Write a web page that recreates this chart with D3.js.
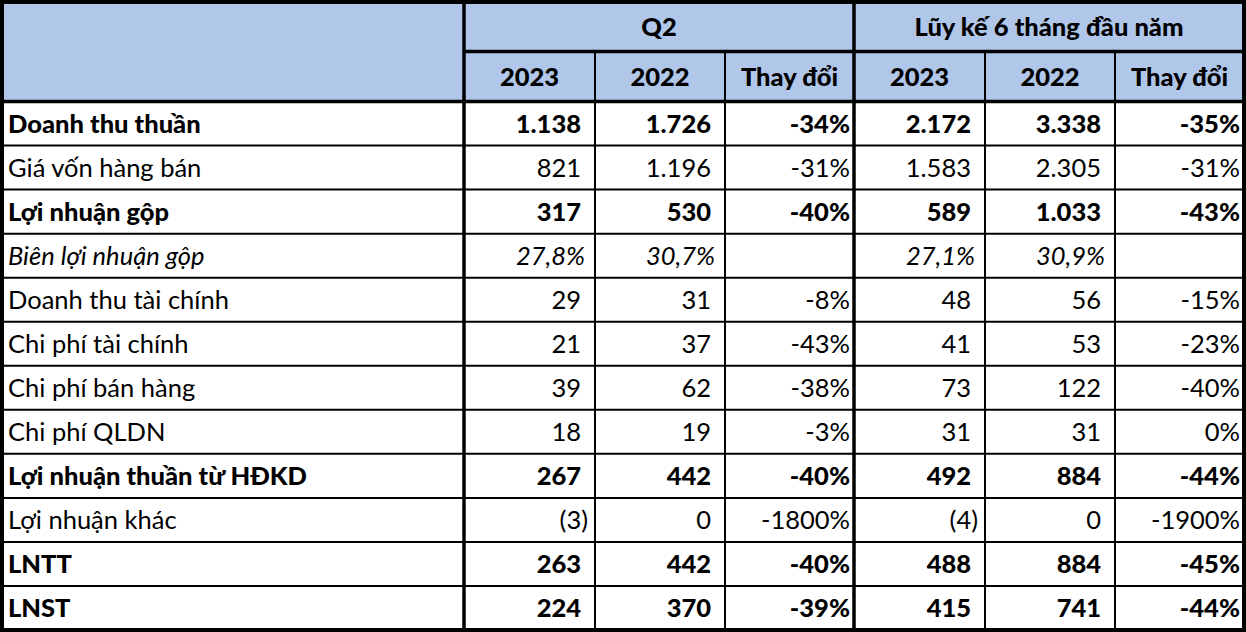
<!DOCTYPE html>
<html>
<head>
<meta charset="utf-8">
<script src="https://cdn.jsdelivr.net/npm/d3@7"></script>
<style>
  html, body { margin: 0; padding: 0; background: #fff; }
  svg { display: block; }
  text { font-family: Lato, "Open Sans", sans-serif; fill: #000; }
</style>
</head>
<body>
<script>
// row labels and values (tỷ đồng)
var rowLabels = ["Doanh thu thuần", "Giá vốn hàng bán", "Lợi nhuận gộp", "Biên lợi nhuận gộp",
    "Doanh thu tài chính", "Chi phí tài chính", "Chi phí bán hàng", "Chi phí QLDN",
    "Lợi nhuận thuần từ HĐKD", "Lợi nhuận khác", "LNTT", "LNST"];
var q2_2023  = [1138, 821, 317, 0.278, 29, 21, 39, 18, 267, -3, 263, 224];
var q2_2022  = [1726, 1196, 530, 0.307, 31, 37, 62, 19, 442, 0, 442, 370];
var q2Change = [-0.34, -0.31, -0.40, null, -0.08, -0.43, -0.38, -0.03, -0.40, -18, -0.40, -0.39];
var ytd_2023  = [2172, 1583, 589, 0.271, 48, 41, 73, 31, 492, -4, 488, 415];
var ytd_2022  = [3338, 2305, 1033, 0.309, 56, 53, 122, 31, 884, 0, 884, 741];
var ytdChange = [-0.35, -0.31, -0.43, null, -0.15, -0.23, -0.40, 0, -0.44, -19, -0.45, -0.44];
var groupLabels = ["Q2", "Lũy kế 6 tháng đầu năm"];
var subLabels = ["2023", "2022", "Thay đổi"];

var boldRows = [0, 2, 8, 10, 11];
var italicRows = [3];
var ratioRows = [3];

var width = 1246, height = 632;
var colEdges = [2, 464, 595, 725, 854, 985, 1115, 1244];
var headTop = 2, headMid = 51.5, headBottom = 101.5, tableBottom = 630;

var vn = d3.formatLocale({decimal: ",", thousands: ".", grouping: [3], currency: ["", ""], minus: "-"});
var fmtNum = vn.format(",d"), fmtPct0 = vn.format(".0%"), fmtPct1 = vn.format(".1%");

var columns = [q2_2023, q2_2022, q2Change, ytd_2023, ytd_2022, ytdChange];

var y = d3.scaleBand()
    .domain(d3.range(rowLabels.length))
    .range([headBottom, tableBottom]);

var svg = d3.select("body").append("svg")
    .attr("width", width)
    .attr("height", height);

// header background
svg.append("rect")
    .attr("x", 0).attr("y", 0)
    .attr("width", width).attr("height", headBottom)
    .attr("fill", "#b0c7ea");

var fs = 25.5, boldW = 900;

// header texts
svg.selectAll("text.group").data(groupLabels)
    .enter().append("text")
    .attr("class", "group")
    .attr("x", function(d, i) { return (colEdges[1 + i * 3] + colEdges[4 + i * 3]) / 2; })
    .attr("y", (headTop + headMid) / 2 + 9)
    .attr("text-anchor", "middle")
    .style("font-size", fs + "px")
    .style("font-weight", boldW)
    .text(function(d) { return d; });

var subs = [];
for (var g = 0; g < 2; g++)
    subLabels.forEach(function(s, k) { subs.push({label: s, col: 1 + g * 3 + k}); });

svg.selectAll("text.sub").data(subs)
    .enter().append("text")
    .attr("class", "sub")
    .attr("x", function(d) { return (colEdges[d.col] + colEdges[d.col + 1]) / 2; })
    .attr("y", (headMid + headBottom) / 2 + 9)
    .attr("text-anchor", "middle")
    .style("font-size", fs + "px")
    .style("font-weight", boldW)
    .text(function(d) { return d.label; });

// row labels
var rowsG = svg.append("g").attr("class", "body");

rowsG.selectAll("text.label").data(rowLabels)
    .enter().append("text")
    .attr("class", "label")
    .attr("x", colEdges[0] + 6)
    .attr("y", function(d, i) { return y(i) + y.bandwidth() / 2 + 9; })
    .style("font-size", fs + "px")
    .style("font-weight", function(d, i) { return boldRows.indexOf(i) >= 0 ? boldW : "normal"; })
    .style("font-style", function(d, i) { return italicRows.indexOf(i) >= 0 ? "italic" : "normal"; })
    .text(function(d) { return d; });

// value cells
var cells = [];
columns.forEach(function(arr, c) {
    var isChange = (c === 2 || c === 5);
    arr.forEach(function(v, r) {
        if (v === null) return;
        var txt, pad;
        if (isChange) {
            txt = fmtPct0(v); pad = 4;
        } else if (ratioRows.indexOf(r) >= 0) {
            txt = fmtPct1(v); pad = 10;
        } else if (v < 0) {
            txt = "(" + fmtNum(-v) + ")"; pad = 7;
        } else {
            txt = fmtNum(v); pad = 14;
        }
        cells.push({row: r, col: c + 1, text: txt, pad: pad});
    });
});

rowsG.selectAll("text.val").data(cells)
    .enter().append("text")
    .attr("class", "val")
    .attr("x", function(d) { return colEdges[d.col + 1] - d.pad; })
    .attr("y", function(d) { return y(d.row) + y.bandwidth() / 2 + 9; })
    .attr("text-anchor", "end")
    .style("font-size", fs + "px")
    .style("font-weight", function(d) { return boldRows.indexOf(d.row) >= 0 ? boldW : "normal"; })
    .style("font-style", function(d) { return italicRows.indexOf(d.row) >= 0 ? "italic" : "normal"; })
    .text(function(d) { return d.text; });

// grid lines
var gridG = svg.append("g").attr("class", "grid").attr("stroke", "#000");

// thin row lines
gridG.selectAll("line.row").data(d3.range(1, rowLabels.length))
    .enter().append("line")
    .attr("x1", colEdges[0]).attr("x2", colEdges[7])
    .attr("y1", function(i) { return y(i); })
    .attr("y2", function(i) { return y(i); })
    .attr("stroke-width", 2);

// thin column lines
var thinCols = [2, 3, 5, 6];
gridG.selectAll("line.col").data(thinCols)
    .enter().append("line")
    .attr("x1", function(c) { return colEdges[c]; })
    .attr("x2", function(c) { return colEdges[c]; })
    .attr("y1", headMid).attr("y2", tableBottom)
    .attr("stroke-width", 2);

// thick lines
gridG.append("line")
    .attr("x1", colEdges[1]).attr("x2", colEdges[7])
    .attr("y1", headMid).attr("y2", headMid)
    .attr("stroke-width", 3.5);
gridG.append("line")
    .attr("x1", colEdges[0]).attr("x2", colEdges[7])
    .attr("y1", headBottom).attr("y2", headBottom)
    .attr("stroke-width", 3.5);
gridG.selectAll("line.thick").data([1, 4])
    .enter().append("line")
    .attr("x1", function(c) { return colEdges[c]; })
    .attr("x2", function(c) { return colEdges[c]; })
    .attr("y1", 0).attr("y2", height)
    .attr("stroke-width", 3.5);

// outer border
gridG.append("rect")
    .attr("x", 2).attr("y", 2)
    .attr("width", width - 4).attr("height", tableBottom - 2)
    .attr("fill", "none")
    .attr("stroke-width", 4);
</script>
</body>
</html>
